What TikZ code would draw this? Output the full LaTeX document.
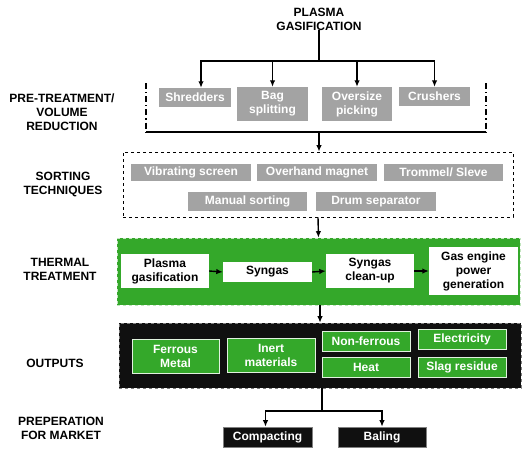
\documentclass[tikz,border=0pt]{standalone}
\usepackage{fontspec}
\setmainfont{Liberation Sans}
\usepackage{tikz}
\usetikzlibrary{arrows.meta}
\definecolor{boxgray}{RGB}{163,163,163}
\definecolor{plgreen}{RGB}{52,168,42}
\definecolor{plblack}{RGB}{16,16,16}

\begin{document}
\begin{tikzpicture}[x=1pt,y=-1pt,
  every node/.style={font=\fontsize{12}{14}\selectfont\bfseries,align=center,inner sep=0pt},
  stage/.style={},
  graybox/.style={fill=boxgray,text=white,minimum width=71,minimum height=19},
  sortbox/.style={fill=boxgray,text=white,minimum width=120,minimum height=17},
  whitebox/.style={fill=white,text=black,minimum width=88,minimum height=34},
  outbox/.style={fill=plgreen,draw=white!85!plgreen,line width=0.9pt,text=white,minimum width=87,minimum height=20},
  mktbox/.style={fill=plblack,draw=gray,line width=0.6pt,text=white,minimum width=88,minimum height=20},
  link/.style={line width=1.4pt},
  arr/.style={link,-{Latex[length=6.5pt,width=5.5pt]}}]
\useasboundingbox (0,0) rectangle (524,452);

% titre
\node (title) at (319,19) {PLASMA\\GASIFICATION};
\coordinate (bus) at (319,61);

% etapes (colonne gauche)
\node[stage] (lpre) at (62,112) {PRE-TREATMENT/\\VOLUME\\REDUCTION};
\node[stage] (lsort) at (63,184) {SORTING\\TECHNIQUES};
\node[stage] (ltherm) at (60,269) {THERMAL\\TREATMENT};
\node[stage] (lout) at (55,363) {OUTPUTS};
\node[stage] (lmkt) at (61,428) {PREPERATION\\FOR MARKET};

% pre-traitement
\node[graybox,minimum width=72] (shred) at (195,97.5) {Shredders};
\node[graybox,minimum height=34] (bag) at (272.5,104) {Bag\\splitting};
\node[graybox,minimum width=70,minimum height=34] (oversize) at (357,104) {Oversize\\picking};
\node[graybox] (crush) at (434.5,96.5) {Crushers};

\draw[link] (title) -- (bus);
\draw[arr] (bus) -| ([xshift=6]shred.north);
\draw[arr] (bus) -| (bag.north);
\draw[arr] (bus) -| (oversize.north);
\draw[arr] (bus) -| (crush.north);

% crochet
\coordinate (brl) at (146,132);
\coordinate (brr) at (486,132);
\coordinate (brm) at (319,132);
\draw[line width=1.2pt,dash pattern=on 6pt off 3pt on 1.2pt off 3pt] (146,83) -- (brl);
\draw[line width=1.2pt,dash pattern=on 6pt off 3pt on 1.2pt off 3pt] (486,83) -- (brr);
\draw[link] (brl) -- (brr);

% tri
\node[draw,dashed,line width=0.8pt,minimum width=390,minimum height=65] (sorting) at (318,184.5) {};
\node[sortbox] (vib) at (191,172) {Vibrating screen};
\node[sortbox] (magnet) at (317,172) {Overhand magnet};
\node[sortbox,minimum width=119] (trommel) at (443.5,172) {Trommel/ Sleve};
\node[sortbox,minimum width=119,minimum height=19] (manual) at (247.5,201.5) {Manual sorting};
\node[sortbox,minimum height=19] (drum) at (376,201.5) {Drum separator};

\draw[arr] (brm) -- (sorting.north -| brm);

% traitement thermique
\node[fill=plgreen,draw=white!70!plgreen,dashed,line width=0.6pt,minimum width=403,minimum height=67] (thermal) at (318.5,271.5) {};
\node[whitebox] (plasma) at (165,271) {Plasma\\gasification};
\node[whitebox,minimum width=89,minimum height=20] (syngas) at (267.5,272) {Syngas};
\node[whitebox] (cleanup) at (370,271) {Syngas\\clean-up};
\node[whitebox,minimum width=89,minimum height=48] (engine) at (473.5,271) {Gas engine\\power\\generation};

\draw[arr] (sorting.south) -- (thermal.north);
\draw[arr] (plasma.east) -- (syngas.west);
\draw[arr] (syngas.east) -- (cleanup.west);
\draw[arr] (cleanup.east) -- (engine.west);

% produits
\node[fill=plblack,draw=gray,dashed,line width=0.6pt,minimum width=402,minimum height=65] (outputs) at (320,355.5) {};
\node[outbox,minimum height=34] (ferrous) at (175.5,356) {Ferrous\\Metal};
\node[outbox,minimum width=88,minimum height=34] (inert) at (271,355) {Inert\\materials};
\node[outbox,minimum width=88] (nonfer) at (366,341) {Non-ferrous};
\node[outbox,minimum width=88] (elec) at (462,339) {Electricity};
\node[outbox,minimum width=88] (heat) at (366,367) {Heat};
\node[outbox,minimum width=88] (slag) at (462,367) {Slag residue};

\draw[arr] (thermal.south -| outputs.north) -- (outputs.north);

% preparation pour le marche
\node[mktbox,minimum width=89] (compact) at (267.5,437) {Compacting};
\node[mktbox] (baling) at (382,437) {Baling};
\coordinate (mkt) at (322,411);

\draw[link] (outputs.south -| mkt) -- (mkt);
\draw[arr] (mkt) -| ([xshift=-2]compact.north);
\draw[arr] (mkt) -| (baling.north);
\end{tikzpicture}
\end{document}
